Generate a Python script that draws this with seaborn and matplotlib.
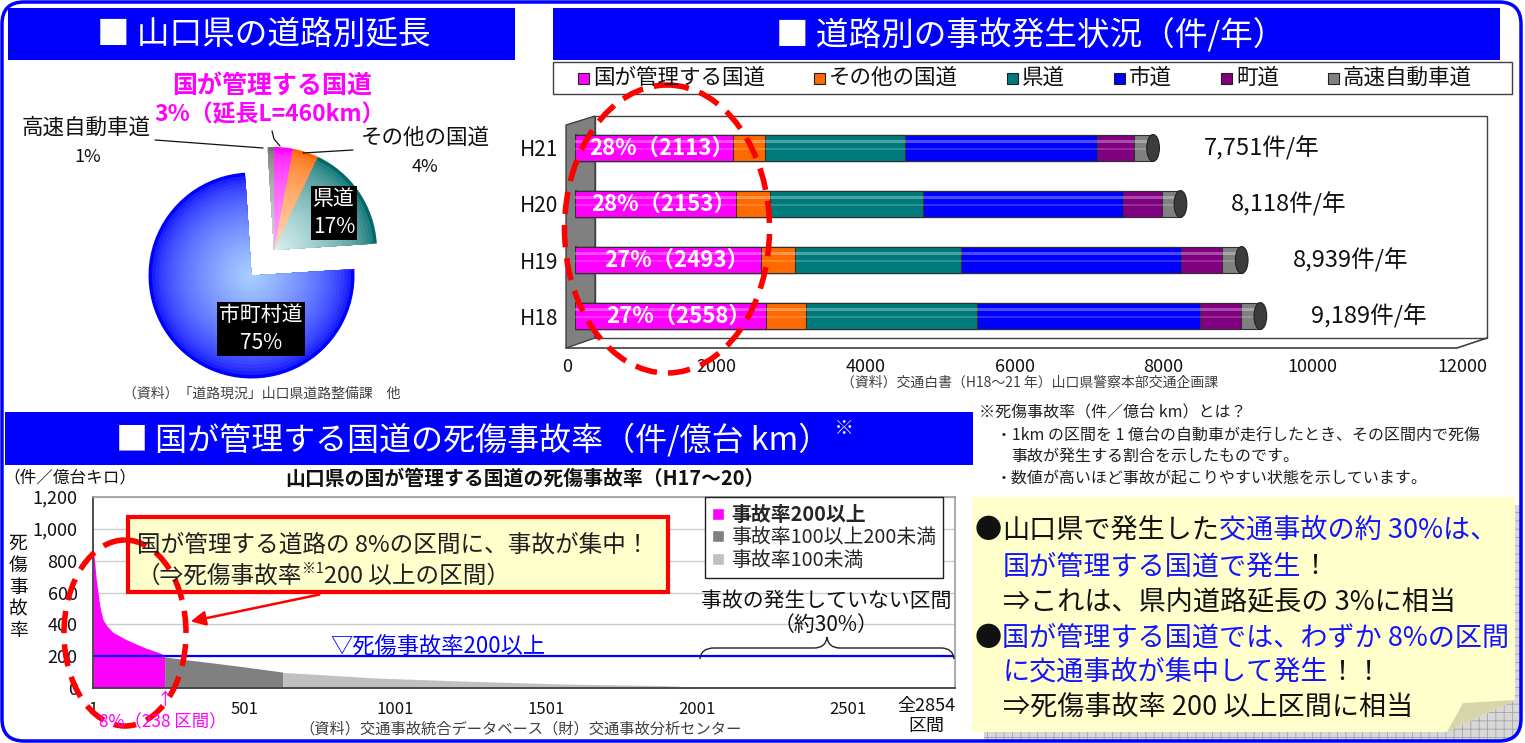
import matplotlib
matplotlib.use("Agg")
import numpy as np
import pandas as pd
import matplotlib.pyplot as plt
import seaborn as sns
from matplotlib import colors
from matplotlib.patches import Rectangle, Polygon, Ellipse, FancyBboxPatch, Patch, PathPatch
from matplotlib.path import Path
from matplotlib.transforms import ScaledTranslation

# ---- data ----
# road length share in Yamaguchi (%), pie order clockwise from top
road_types = ["国が管理する国道", "その他の国道", "県道", "市町村道", "高速自動車道"]
road_share = [3, 4, 17, 75, 1]

# accidents per year by road type
years = ["H21", "H20", "H19", "H18"]
acc_types = ["国が管理する国道", "その他の国道", "県道", "市道", "町道", "高速自動車道"]
acc_national = [2113, 2153, 2493, 2558]
acc_other_nat = [436, 462, 462, 542]
acc_pref = [1876, 2047, 2219, 2285]
acc_city = [2576, 2681, 2946, 2999]
acc_town = [489, 528, 555, 542]
acc_expwy = [261, 247, 264, 263]
acc_total = [7751, 8118, 8939, 9189]
acc_share = [28, 28, 27, 27]

# fatal/injury accident rate per section (sorted high -> low), read at break points
section_no = [1, 2, 5, 12, 23, 34, 47, 67, 110, 170, 222, 238,
              238, 300, 400, 500, 629,
              629, 937, 1248, 1559, 1890, 2000, 2001, 2854]
section_rate = [1000, 840, 820, 680, 520, 430, 390, 350, 305, 255, 220, 205,
                195, 180, 157, 133, 100,
                98, 63, 42, 25, 15, 6, 0, 0]
rate_ticks = [0, 200, 400, 600, 800, 1000, 1200]
rate_ticklabels = ["0", "200", "400", "600", "800", "1,000", "1,200"]
section_ticks = [1, 501, 1001, 1501, 2001, 2501]

# ---- style ----
sns.set_theme(style="white")
plt.rcParams["font.family"] = ["Noto Sans CJK JP", "DejaVu Sans"]
plt.rcParams["hatch.linewidth"] = 0.6

BLUE = "#0000ff"
MAG = "#ff00ff"
acc_colors = ["#ff00ff", "#ff6a00", "#007b7b", "#0000ff", "#800080", "#808080"]

W, H = 1525, 743
fig = plt.figure(figsize=(W / 100, H / 100), dpi=100)
fig.patch.set_facecolor("white")


def px_axes(x0, y0, x1, y1):
    return fig.add_axes([x0 / W, 1 - y1 / H, (x1 - x0) / W, (y1 - y0) / H])


def page_axes(z):
    a = px_axes(0, 0, W, H)
    a.set_xlim(0, W)
    a.set_ylim(H, 0)
    a.axis("off")
    a.set_zorder(z)
    return a


bg = page_axes(-1)
ov = page_axes(10)
rend = fig.canvas.get_renderer()


def runs(x, y, parts, size, **kw):
    # draw text pieces one after another on the page overlay
    for p in parts:
        s, c = p[0], p[1]
        fs = p[2] if len(p) > 2 else size
        dy = p[3] if len(p) > 3 else 0
        t = ov.text(x, y + dy, s, color=c, fontsize=fs, ha="left", va="center", **kw)
        x += t.get_window_extent(renderer=rend).width
    return x


# ---- title bars ----
for x0, y0, x1, y1 in [(8, 8, 515, 60), (553, 8, 1500, 60), (5, 412, 973, 465)]:
    bg.add_patch(Rectangle((x0, y0), x1 - x0, y1 - y0, fc=BLUE, ec="none"))
runs(97, 35, [("■ 山口県の道路別延長", "white")], 23.5)
runs(776, 35, [("■ 道路別の事故発生状況（件/年）", "white")], 23.5)
runs(116, 440, [("■ 国が管理する国道の死傷事故率（件/億台 km）", "white"),
                (" ※", "white", 14, -11)], 23)

# ---- pie: road length ----
pax = px_axes(124, 100, 424, 400)
edge_cols = ["#ff00ff", "#ff6600", "#006a6a", "#0000ff", "#6e6e6e"]
light_cols = ["#ffa6ff", "#ffd6b0", "#d6eeee", "#a8ceff", "#dadada"]
R = 103
steps = 30
for k in range(steps):
    f = k / (steps - 1)
    r = 1 - 0.97 * f
    mix = f ** 0.55
    cols = [colors.to_hex((1 - mix) * np.array(colors.to_rgb(e)) + mix * np.array(colors.to_rgb(l)))
            for e, l in zip(edge_cols, light_cols)]
    pax.pie(road_share, colors=cols, startangle=90, counterclock=False,
            explode=[0, 0, 0, 0.33, 0], radius=r, wedgeprops=dict(linewidth=0))
pax.set_xlim(-150 / R, 150 / R)
pax.set_ylim(-150 / R, 150 / R)

ov.text(272, 86, "国が管理する国道", color=MAG, fontsize=18, fontweight="bold", ha="center", va="center")
ov.text(270, 115, "3%（延長L=460km）", color=MAG, fontsize=16.5, fontweight="bold", ha="center", va="center")
ov.text(86, 128, "高速自動車道", fontsize=15.5, ha="center", va="center", color="#111111")
ov.text(88, 157, "1%", fontsize=13, ha="center", va="center", color="#111111")
ov.text(425, 138, "その他の国道", fontsize=15.5, ha="center", va="center", color="#111111")
ov.text(425, 167, "4%", fontsize=13, ha="center", va="center", color="#111111")
ov.text(334, 213, "県道\n17%", fontsize=15, color="white", ha="center", va="center", linespacing=1.35,
        bbox=dict(fc="black", ec="none", pad=1.5))
ov.text(261, 329, "市町村道\n75%", fontsize=15, color="white", ha="center", va="center", linespacing=1.3,
        bbox=dict(fc="black", ec="none", pad=1.5))
ov.plot([155, 263], [140, 148], color="#111111", lw=0.9)
ov.plot([272, 274, 280], [131, 139, 146], color="#111111", lw=0.9)
ov.plot([353, 303], [150, 153], color="#111111", lw=0.9)
ov.text(262, 394, "（資料）「道路現況」山口県道路整備課　他", fontsize=10, color="#404040",
        ha="center", va="center")

# ---- bar chart: accidents by road type ----
# legend strip
ov.add_patch(Rectangle((553, 62), 959, 32, fc="white", ec="#404040", lw=1))
x = 578
for name, c in zip(acc_types, acc_colors):
    ov.add_patch(Rectangle((x, 73), 11, 11, fc=c, ec="#202020", lw=0.8))
    t = ov.text(x + 15, 78, name, fontsize=15.5, ha="left", va="center", color="#111111")
    x += 15 + t.get_window_extent(renderer=rend).width + 49

# pseudo-3D frame
bg.add_patch(Rectangle((595, 116), 892, 222, fc="white", ec="#404040", lw=1))
bg.add_patch(Polygon([(566, 125), (595, 116), (595, 338), (566, 348)], closed=True,
                     fc="#808080", ec="#404040", lw=1))
bg.plot([566, 1457, 1487], [348, 348, 338], color="#404040", lw=1.2)

bax = px_axes(575, 116, 1470, 348)
bax.patch.set_alpha(0)
df = pd.DataFrame({"year": years, "c1": acc_national, "c2": acc_other_nat, "c3": acc_pref,
                   "c4": acc_city, "c5": acc_town, "c6": acc_expwy})
cum = df[["c1", "c2", "c3", "c4", "c5", "c6"]].cumsum(axis=1)
cum["year"] = years
for i in range(5, -1, -1):
    sns.barplot(data=cum, x=f"c{i + 1}", y="year", order=years, orient="h", color=acc_colors[i],
                saturation=1, width=0.48, edgecolor="#303030", linewidth=0.8, errorbar=None, ax=bax)
pos = np.arange(len(years))
bax.barh(pos - 0.12, acc_total, height=0.06, color="white", alpha=0.3, lw=0, zorder=3)
bax.barh(pos + 0.02, acc_total, height=0.03, color="white", alpha=0.18, lw=0, zorder=3)
for i, tot in enumerate(acc_total):
    bax.add_patch(Ellipse((tot, i), 170, 0.48, fc="#3c3c3c", ec="#202020", lw=0.8, zorder=4))
    bax.add_patch(Ellipse((0, i), 170, 0.48, fc=MAG, ec="#303030", lw=0.8, zorder=0.5))
    bax.text(acc_national[i] / 2 + 110, i, f"{acc_share[i]}%（{acc_national[i]}）", color="white",
             fontsize=16, fontweight="bold", ha="center", va="center", zorder=5)
    bax.text(tot + 680, i, f"{tot:,}件/年", fontsize=17, ha="left", va="center", color="#111111")
bax.set_xlim(0, 12000)
bax.set_ylim(3.571, -0.571)
bax.set_xticks(range(0, 12001, 2000))
bax.set_xlabel("")
bax.set_ylabel("")
bax.tick_params(axis="x", length=0, pad=7, labelsize=13, labelcolor="#111111")
bax.tick_params(axis="y", length=0, pad=12, labelsize=15, labelcolor="#111111")
for s in bax.spines.values():
    s.set_visible(False)
# x labels sit on the front edge of the floor, a little left of the bar origin
shift = ScaledTranslation(-8 / 100, 0, fig.dpi_scale_trans)
for lbl in bax.get_xticklabels():
    lbl.set_transform(lbl.get_transform() + shift)
ov.text(1030, 383, "（資料）交通白書（H18～21 年）山口県警察本部交通企画課", fontsize=10,
        color="#404040", ha="center", va="center")
ov.add_patch(Ellipse((667, 229), 205, 288, fill=False, ec="#ff0000", lw=4, ls=(0, (4, 2))))

# ---- accident rate by section ----
cax = px_axes(93, 497, 955, 688)
sec = np.array(section_no)
rate = np.array(section_rate)
cax.fill_between(sec, rate, where=rate >= 200, color=MAG, lw=0)
cax.fill_between(sec, rate, where=(rate >= 100) & (rate < 200), color="#808080", lw=0)
cax.fill_between(sec, rate, where=rate < 100, color="#c0c0c0", lw=0)
cax.axhline(200, color=BLUE, lw=1.6)
cax.set_xlim(1, 2854)
cax.set_ylim(0, 1200)
cax.set_yticks(rate_ticks)
cax.set_yticklabels(rate_ticklabels)
cax.set_xticks(section_ticks)
cax.set_xticklabels([str(s) for s in section_ticks])
cax.yaxis.grid(True, color="#cccccc", lw=1)
cax.set_axisbelow(True)
cax.tick_params(axis="both", length=0, labelsize=13, labelcolor="#111111")
cax.tick_params(axis="x", pad=9, labelsize=12)
cax.tick_params(axis="y", pad=11)
for side in ["top", "right"]:
    cax.spines[side].set_color("#a0a0a0")
for side in ["left", "bottom"]:
    cax.spines[side].set_color("#404040")
    cax.spines[side].set_linewidth(1.3)

handles = [Patch(fc=MAG), Patch(fc="#808080"), Patch(fc="#c0c0c0")]
leg = cax.legend(handles, ["事故率200以上", "事故率100以上200未満", "事故率100未満"],
                 loc="upper right", bbox_to_anchor=(943, 497), bbox_transform=bg.transData,
                 fontsize=14.3, frameon=True, fancybox=False, framealpha=1, edgecolor="#202020",
                 handlelength=0.6, handleheight=0.6, handletextpad=0.35, borderpad=0.35,
                 labelspacing=0.1, borderaxespad=0)
leg.get_frame().set_linewidth(1)
leg.get_texts()[0].set_fontweight("bold")

ov.text(70, 478, "（件／億台キロ）", fontsize=12, ha="center", va="center", color="#111111")
ov.text(525, 478, "山口県の国が管理する国道の死傷事故率（H17～20）", fontsize=14.3,
        fontweight="bold", ha="center", va="center", color="#111111")
ov.text(18, 587, "死\n傷\n事\n故\n率", fontsize=13.5, ha="center", va="center",
        linespacing=1.05, color="#111111")
ov.text(330, 647, "▽死傷事故率200以上", fontsize=16, color=BLUE, ha="left", va="center")
ov.text(926, 716, "全2854\n区間", fontsize=13, ha="center", va="center", linespacing=1.2,
        color="#111111")
ov.text(165, 701, "↑", fontsize=12, color=MAG, ha="center", va="center")
ov.text(99, 722, "8%（238 区間）", fontsize=12.5, color=MAG, ha="left", va="center")
ov.text(826, 601, "事故の発生していない区間", fontsize=15, ha="center", va="center", color="#111111")
ov.text(826, 625, "（約30%）", fontsize=15, ha="center", va="center", color="#111111")
brace = Path([(700, 659), (701, 648), (714, 648), (814, 648), (826, 648), (827, 637),
              (828, 648), (840, 648), (941, 648), (953, 648), (954, 659)],
             [Path.MOVETO, Path.CURVE3, Path.CURVE3, Path.LINETO, Path.CURVE3, Path.CURVE3,
              Path.CURVE3, Path.CURVE3, Path.LINETO, Path.CURVE3, Path.CURVE3])
ov.add_patch(PathPatch(brace, fill=False, ec="#202020", lw=1))
ov.text(521, 729, "（資料）交通事故統合データベース（財）交通事故分析センター", fontsize=11,
        color="#404040", ha="center", va="center")

# callout
ov.add_patch(Rectangle((128, 517), 540, 75, fc="#ffffcc", ec="#ff0000", lw=3))
runs(137, 545, [("国が管理する道路の 8%の区間に、事故が集中！", "#202020")], 17)
runs(137, 576, [("（⇒死傷事故率", "#202020"), ("※1", "#202020", 10, -7),
                ("200 以上の区間）", "#202020")], 17)
ov.annotate("", xy=(188, 622), xytext=(322, 594),
            arrowprops=dict(arrowstyle="-|>", color="#ff0000", lw=1.8, mutation_scale=22))
ov.add_patch(Ellipse((125, 633), 122, 186, fill=False, ec="#ff0000", lw=4, ls=(0, (4, 2))))

# ---- notes ----
note_kw = dict(fontsize=11.5, color="#202020", ha="left", va="center")
ov.text(979, 413, "※死傷事故率（件／億台 km）とは？", **note_kw)
ov.text(996, 436, "・1km の区間を 1 億台の自動車が走行したとき、その区間内で死傷", **note_kw)
ov.text(1011, 457, "事故が発生する割合を示したものです。", **note_kw)
ov.text(996, 478, "・数値が高いほど事故が起こりやすい状態を示しています。", **note_kw)

# ---- summary box ----
frame_clip = FancyBboxPatch((2, 2), 1519, 739, boxstyle="round,pad=0,rounding_size=22",
                            transform=bg.transData)
shadow = Rectangle((984, 505), 540, 240, fc="#d8d8d8", ec="#a4a4a4", hatch="++", lw=0)
bg.add_patch(shadow)
shadow.set_clip_path(frame_clip)
bg.add_patch(Polygon([(972, 497), (1515, 497), (1515, 700), (1447, 732), (972, 732)],
                     closed=True, fc="#ffffcc", ec="none"))
bg.add_patch(Polygon([(1447, 732), (1463, 703), (1515, 700)], closed=True, fc="#d6d6aa", ec="none"))

BT = "#1414ff"
K = "#111111"
fs = 19.5
runs(975, 530, [("●", K), ("山口県で発生した", K), ("交通事故の約 30%は、", BT)], fs)
runs(1003, 567, [("国が管理する国道で発生", BT), ("！", K)], fs)
runs(1003, 603, [("⇒これは、県内道路延長の 3%に相当", K)], fs)
runs(975, 638, [("●", K), ("国が管理する国道では、わずか 8%の区間", BT)], fs)
runs(1003, 672, [("に交通事故が集中して発生", BT), ("！！", K)], fs)
runs(1003, 707, [("⇒死傷事故率 200 以上区間に相当", K)], fs)

# outer frame
ov.add_patch(FancyBboxPatch((2, 2), 1519, 739, boxstyle="round,pad=0,rounding_size=22",
                            fill=False, ec=BLUE, lw=2.5))

fig.savefig("out.png", dpi=100)
